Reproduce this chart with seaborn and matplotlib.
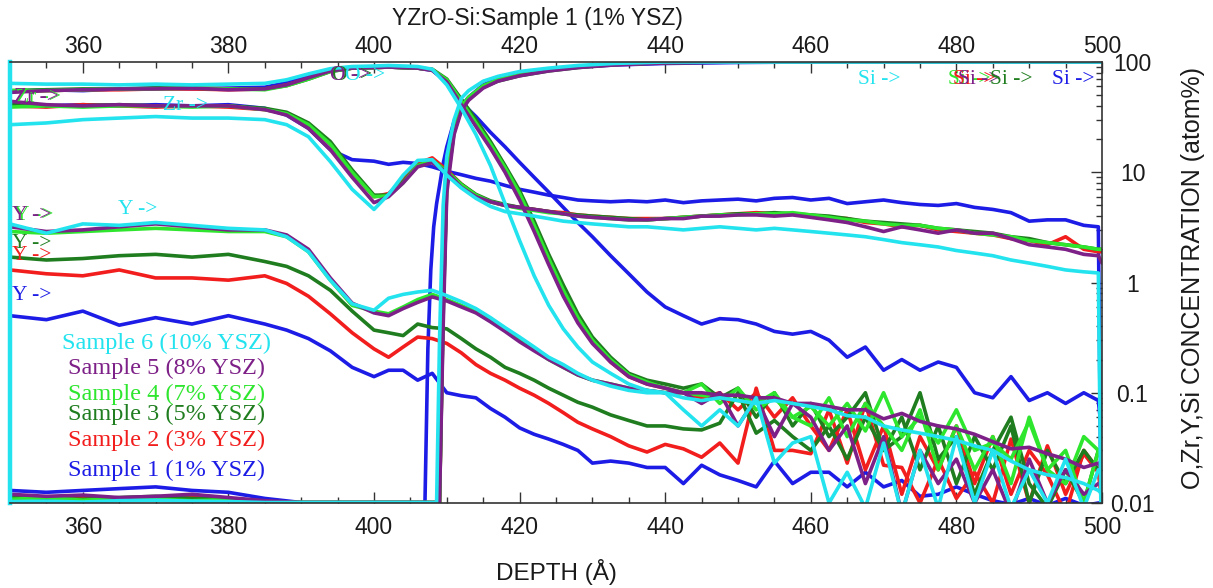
import numpy as np
import matplotlib
matplotlib.use("Agg")
import matplotlib.pyplot as plt
import seaborn as sns
from matplotlib.ticker import MultipleLocator, LogLocator, NullFormatter, NullLocator

# ---------------- data ----------------
depth = [350, 355, 360, 365, 370, 375, 380, 385, 388, 391, 394, 397,
         400, 402, 404, 406, 408, 410, 412, 414, 416, 418, 420, 422, 424, 426, 428, 430,
         432.5, 435, 437.5, 440, 442.5, 445, 447.5, 450, 452.5, 455,
         457.5, 460, 462.5, 465, 467.5, 470, 472.5, 475, 477.5, 480,
         482.5, 485, 487.5, 490, 492.5, 495, 497.5, 499.5, 500]

depth_si = [350, 355, 360, 365, 370, 375, 380, 385, 390, 395, 400, 405, 407, 407.4, 407.8,
            408.2, 408.6, 409, 409.5, 410, 411, 412, 413, 415, 417, 420, 424, 428, 433, 440,
            450, 460, 470, 480, 490, 500]

sample_names = ["Sample 1 (1% YSZ)", "Sample 2 (3% YSZ)", "Sample 3 (5% YSZ)",
                "Sample 4 (7% YSZ)", "Sample 5 (8% YSZ)", "Sample 6 (10% YSZ)"]

O_s1 = [54, 56, 55, 57, 58, 57, 58, 59, 65, 74, 85, 89,
        90, 90, 89, 88, 84, 66, 43, 32, 23, 17, 12.3, 9.0, 6.6, 4.8, 3.5, 2.6,
        1.75, 1.2, 0.82, 0.6, 0.5, 0.42, 0.47, 0.46, 0.42, 0.36,
        0.34, 0.36, 0.3, 0.21, 0.26, 0.16, 0.2, 0.16, 0.19, 0.17,
        0.1, 0.09, 0.14, 0.085, 0.1, 0.08, 0.1, 0.085, 0.04]
O_s2 = [54, 55, 56, 56, 57, 57, 56, 57, 62, 71, 83, 88,
        89, 90, 89, 88, 85, 68, 43, 27, 17, 10.5, 6.0, 3.1, 1.55, 0.8, 0.45, 0.29,
        0.19, 0.14, 0.12, 0.11, 0.1, 0.09, 0.1, 0.07, 0.1, 0.06,
        0.09, 0.05, 0.03, 0.07, 0.02, 0.05, 0.012, 0.04, 0.02, 0.05,
        0.015, 0.04, 0.012, 0.03, 0.018, 0.008, 0.03, 0.02, 0.02]
O_s3 = [55, 56, 57, 57, 58, 58, 57, 57, 61, 70, 82, 88,
        89, 90, 89, 88, 86, 70, 46, 30, 19, 11.5, 6.8, 3.6, 1.8, 0.95, 0.52, 0.32,
        0.21, 0.15, 0.13, 0.12, 0.11, 0.12, 0.09, 0.11, 0.06, 0.1,
        0.05, 0.08, 0.04, 0.06, 0.1, 0.03, 0.06, 0.02, 0.05, 0.015,
        0.04, 0.02, 0.05, 0.01, 0.03, 0.015, 0.03, 0.02, 0.02]
O_s4 = [55, 55, 56, 57, 57, 58, 57, 56, 61, 70, 82, 88,
        89, 90, 89, 88, 85, 69, 44, 28, 18, 11, 6.4, 3.3, 1.65, 0.85, 0.48, 0.3,
        0.2, 0.145, 0.125, 0.11, 0.1, 0.12, 0.08, 0.11, 0.07, 0.09,
        0.06, 0.05, 0.09, 0.04, 0.08, 0.05, 0.03, 0.07, 0.02, 0.05,
        0.02, 0.04, 0.015, 0.06, 0.02, 0.03, 0.01, 0.03, 0.03]
O_s5 = [53, 55, 56, 57, 57, 58, 56, 57, 62, 72, 83, 88,
        89, 90, 89, 88, 84, 66, 41, 26, 16.5, 10, 5.6, 2.9, 1.45, 0.75, 0.43, 0.28,
        0.19, 0.14, 0.12, 0.11, 0.1, 0.08, 0.1, 0.05, 0.09, 0.04,
        0.08, 0.06, 0.03, 0.05, 0.015, 0.04, 0.008, 0.03, 0.015, 0.025,
        0.01, 0.02, 0.008, 0.025, 0.01, 0.02, 0.012, 0.015, 0.015]
O_s6 = [64, 63, 63, 62, 63, 62, 63, 64, 69, 78, 87, 91,
        92, 93, 92, 91, 86, 62, 38, 22, 11.5, 5.2, 2.4, 1.15, 0.62, 0.38, 0.26, 0.19,
        0.15, 0.12, 0.105, 0.1, 0.07, 0.05, 0.07, 0.05, 0.09, 0.023,
        0.035, 0.04, 0.01, 0.019, 0.009, 0.035, 0.008, 0.03, 0.009, 0.04,
        0.01, 0.03, 0.009, 0.02, 0.01, 0.025, 0.009, 0.02, 0.02]

Zr_s1 = [42, 40, 41, 40, 41, 40, 41, 38, 33, 25, 16, 13,
         12.6, 11.8, 12.3, 12, 11.2, 10.2, 9.5, 8.8, 8.3, 7.6, 7.0, 6.6, 6.2, 5.9, 5.6, 5.5,
         5.4, 5.5, 5.4, 5.6, 5.3, 5.5, 5.6, 5.7, 5.5, 5.8,
         5.9, 5.6, 5.8, 5.2, 5.4, 5.6, 5.3, 5.1, 5.0, 5.2,
         4.8, 4.6, 4.3, 3.6, 3.7, 3.7, 3.3, 3.2, 0.001]
Zr_s2 = [40, 39, 41, 40, 39, 40, 39, 37, 34, 27, 18, 10,
         6.0, 6.4, 8.5, 12, 13.5, 10.5, 7.8, 6.2, 5.4, 5.0, 4.8, 4.6, 4.4, 4.3, 4.1, 4.0,
         3.9, 3.8, 3.8, 3.8, 3.9, 4.0, 4.1, 4.2, 4.3, 4.2,
         4.2, 4.0, 3.9, 3.8, 3.5, 3.4, 3.2, 3.3, 3.0, 2.9,
         2.8, 2.7, 2.5, 2.4, 2.2, 2.6, 2.0, 1.9, 1.9]
Zr_s3 = [41, 40, 40, 41, 40, 40, 40, 38, 35, 28, 19, 10.5,
         6.2, 6.2, 8.2, 11.5, 12.8, 10.2, 7.8, 6.3, 5.5, 5.1, 4.8, 4.6, 4.4, 4.2, 4.1, 4.0,
         3.9, 3.8, 3.7, 3.8, 3.9, 4.0, 4.1, 4.2, 4.2, 4.3,
         4.2, 4.1, 4.0, 3.8, 3.6, 3.5, 3.4, 3.3, 3.1, 3.0,
         2.9, 2.8, 2.6, 2.5, 2.3, 2.2, 2.1, 2.0, 2.0]
Zr_s4 = [39, 40, 39, 40, 40, 39, 40, 37, 34, 27, 18, 10,
         6.0, 6.1, 8.0, 11.5, 12.8, 10.2, 7.7, 6.2, 5.4, 5.0, 4.7, 4.5, 4.3, 4.2, 4.0, 3.9,
         3.8, 3.7, 3.7, 3.8, 3.9, 4.0, 4.1, 4.1, 4.2, 4.2,
         4.3, 4.1, 3.9, 3.7, 3.6, 3.4, 3.3, 3.3, 3.1, 3.0,
         2.8, 2.7, 2.6, 2.4, 2.3, 2.2, 2.1, 2.0, 2.0]
Zr_s5 = [44, 41, 40, 41, 40, 40, 40, 37, 33, 25, 16, 9,
         5.3, 6.0, 8.0, 11.2, 12.2, 10, 7.3, 6.0, 5.4, 5.0, 4.8, 4.6, 4.4, 4.2, 4.0, 3.9,
         3.8, 3.7, 3.7, 3.8, 3.8, 4.0, 4.0, 4.1, 4.1, 4.0,
         4.1, 3.9, 3.7, 3.5, 3.2, 2.9, 3.2, 3.0, 2.8, 3.0,
         2.8, 2.8, 2.5, 2.2, 2.1, 2.0, 1.8, 1.75, 1.5]
Zr_s6 = [27, 28, 30, 31, 32, 31, 31, 30, 27, 21, 12.5, 7,
         4.6, 6.3, 9.4, 12.8, 13, 9.4, 7.2, 5.8, 4.9, 4.4, 4.2, 4.0, 3.8, 3.6, 3.5, 3.4,
         3.3, 3.2, 3.2, 3.1, 3.0, 3.1, 3.2, 3.1, 3.0, 3.1,
         3.0, 2.9, 2.8, 2.7, 2.6, 2.45, 2.3, 2.2, 2.1, 1.95,
         1.85, 1.75, 1.6, 1.5, 1.4, 1.3, 1.25, 1.22, 0.001]

Y_s1 = [0.5, 0.46, 0.55, 0.41, 0.48, 0.42, 0.5, 0.42, 0.37, 0.31, 0.24, 0.17,
        0.14, 0.16, 0.16, 0.13, 0.15, 0.1, 0.094, 0.09, 0.072, 0.06, 0.048, 0.042, 0.038, 0.034, 0.03, 0.023,
        0.024, 0.023, 0.021, 0.021, 0.015, 0.022, 0.018, 0.016, 0.014, 0.024,
        0.015, 0.019, 0.019, 0.014, 0.019, 0.014, 0.016, 0.0115, 0.012, 0.014,
        0.012, 0.0105, 0.0097, 0.011, 0.0095, 0.011, 0.0095, 0.01, 0.01]
Y_s2 = [1.3, 1.2, 1.15, 1.3, 1.1, 1.1, 1.05, 1.15, 0.98, 0.75, 0.52, 0.35,
        0.25, 0.21, 0.26, 0.32, 0.31, 0.28, 0.23, 0.18, 0.15, 0.13, 0.11, 0.095, 0.08, 0.066, 0.054, 0.047,
        0.04, 0.033, 0.029, 0.034, 0.031, 0.026, 0.035, 0.023, 0.11, 0.03,
        0.03, 0.028, 0.07, 0.023, 0.08, 0.022, 0.021, 0.01, 0.025, 0.011,
        0.019, 0.01, 0.038, 0.01, 0.033, 0.012, 0.028, 0.019, 0.01]
Y_s3 = [1.7, 1.6, 1.65, 1.75, 1.8, 1.7, 1.8, 1.55, 1.4, 1.15, 0.85, 0.55,
        0.37, 0.35, 0.33, 0.42, 0.39, 0.38, 0.31, 0.25, 0.21, 0.17, 0.15, 0.13, 0.11, 0.095, 0.082, 0.074,
        0.063, 0.056, 0.05, 0.05, 0.047, 0.046, 0.053, 0.1, 0.043, 0.056,
        0.04, 0.03, 0.05, 0.025, 0.06, 0.03, 0.04, 0.1, 0.025, 0.04,
        0.012, 0.03, 0.06, 0.015, 0.009, 0.02, 0.01, 0.03, 0.03]
Y_s4 = [2.9, 2.8, 2.9, 3.0, 3.1, 3.0, 2.9, 2.9, 2.6, 1.9, 1.05, 0.62,
        0.55, 0.52, 0.6, 0.7, 0.78, 0.7, 0.62, 0.54, 0.45, 0.37, 0.3, 0.245, 0.2, 0.17, 0.145, 0.13,
        0.12, 0.11, 0.105, 0.1, 0.1, 0.095, 0.09, 0.085, 0.08, 0.1,
        0.06, 0.075, 0.05, 0.08, 0.045, 0.1, 0.04, 0.06, 0.035, 0.07,
        0.03, 0.035, 0.025, 0.055, 0.02, 0.015, 0.04, 0.03, 0.03]
Y_s5 = [3.2, 2.9, 3.0, 3.2, 3.4, 3.2, 3.0, 3.0, 2.7, 2.0, 1.1, 0.65,
        0.53, 0.5, 0.58, 0.66, 0.74, 0.68, 0.6, 0.53, 0.44, 0.36, 0.29, 0.24, 0.2, 0.17, 0.145, 0.13,
        0.12, 0.11, 0.105, 0.1, 0.1, 0.1, 0.095, 0.095, 0.09, 0.09,
        0.08, 0.08, 0.075, 0.07, 0.07, 0.058, 0.065, 0.055, 0.05, 0.047,
        0.042, 0.036, 0.031, 0.032, 0.028, 0.025, 0.021, 0.023, 0.02]
Y_s6 = [3.4, 2.8, 3.4, 3.3, 3.5, 3.3, 3.1, 3.0, 2.6, 1.9, 1.05, 0.64,
        0.56, 0.72, 0.78, 0.82, 0.85, 0.76, 0.67, 0.58, 0.48, 0.39, 0.32, 0.26, 0.21, 0.18, 0.15, 0.13,
        0.115, 0.105, 0.1, 0.1, 0.09, 0.085, 0.09, 0.085, 0.08, 0.085,
        0.08, 0.075, 0.07, 0.062, 0.06, 0.05, 0.046, 0.043, 0.04, 0.037,
        0.033, 0.03, 0.024, 0.02, 0.018, 0.017, 0.015, 0.013, 0.012]

Si_s1 = [0.013, 0.0125, 0.013, 0.0135, 0.014, 0.013, 0.0125, 0.011, 0.0101, 0.0101, 0.0101, 0.0101,
         0.0101, 0.25, 1.3, 3.2, 5.2, 7.5, 12, 17, 29, 40, 48, 62, 71, 80, 86, 90, 94, 97,
         99, 100, 100, 100, 100, 100]
Si_s2 = [0.011, 0.0105, 0.0112, 0.0108, 0.011, 0.0115, 0.0107, 0.0103, 0.0101, 0.0101, 0.0101, 0.0101,
         0.0101, 0.0101, 0.0101, 0.0101, 0.0101, 0.0101, 0.6, 8, 24, 38, 47, 60, 68, 76, 84, 90, 95, 99,
         100, 100, 100, 100, 100, 100]
Si_s3 = [0.0112, 0.011, 0.0108, 0.0112, 0.0115, 0.011, 0.0108, 0.0102, 0.0101, 0.0101, 0.0101, 0.0101,
         0.0101, 0.0101, 0.0101, 0.0101, 0.0101, 0.0101, 0.5, 7.5, 23, 37, 46, 59, 67, 75, 83, 89, 95, 99,
         100, 100, 100, 100, 100, 100]
Si_s4 = [0.0108, 0.0112, 0.0106, 0.011, 0.0108, 0.0105, 0.0107, 0.0102, 0.0101, 0.0101, 0.0101, 0.0101,
         0.0101, 0.0101, 0.0101, 0.0101, 0.0101, 0.0101, 0.7, 8.5, 25, 39, 48, 61, 69, 77, 85, 90, 95, 99,
         100, 100, 100, 100, 100, 100]
Si_s5 = [0.012, 0.0115, 0.0118, 0.0112, 0.0115, 0.012, 0.0112, 0.0105, 0.0101, 0.0101, 0.0101, 0.0101,
         0.0101, 0.0101, 0.0101, 0.0101, 0.0101, 0.0101, 0.4, 6.5, 22, 36, 45, 58, 67, 75, 83, 89, 94, 98,
         100, 100, 100, 100, 100, 100]
Si_s6 = [0.0103, 0.0104, 0.0102, 0.0105, 0.0106, 0.0104, 0.0103, 0.0101, 0.0101, 0.0101, 0.0101, 0.0101,
         0.0101, 0.0101, 0.0101, 0.0101, 0.0101, 0.3, 5, 14, 30, 47, 55, 67, 74, 82, 88, 93, 97, 100,
         100, 100, 100, 100, 100, 100]

x_major_ticks = [360, 380, 400, 420, 440, 460, 480, 500]
y_major_ticks = [0.01, 0.1, 1, 10, 100]
y_tick_labels = ["0.01", "0.1", "1", "10", "100"]

# ---------------- style ----------------
colors = ["#1c1ce6", "#f21d1d", "#1f7d1f", "#2ee62e", "#7d2087", "#22e3ee"]
O_all = [O_s1, O_s2, O_s3, O_s4, O_s5, O_s6]
Zr_all = [Zr_s1, Zr_s2, Zr_s3, Zr_s4, Zr_s5, Zr_s6]
Y_all = [Y_s1, Y_s2, Y_s3, Y_s4, Y_s5, Y_s6]
Si_all = [Si_s1, Si_s2, Si_s3, Si_s4, Si_s5, Si_s6]

sns.set_theme(style="white")
plt.rcParams['font.family'] = ['Liberation Sans', 'DejaVu Sans']
SERIF = ['Liberation Serif', 'DejaVu Serif']
TXT = '#1a1a1a'

fig = plt.figure(figsize=(12.13, 5.88), dpi=100)
ax = fig.add_axes([10 / 1213, 85 / 588, 1092 / 1213, 441 / 588])
ax.set_facecolor('white')

LW = 2.6
for s in range(6):
    for vals in (O_all[s], Zr_all[s], Y_all[s]):
        sns.lineplot(x=depth, y=vals, ax=ax, color=colors[s], lw=LW,
                     estimator=None, sort=False, legend=False)
    sns.lineplot(x=depth_si, y=Si_all[s], ax=ax, color=colors[s], lw=LW,
                 estimator=None, sort=False, legend=False)

ax.set_yscale('log')
ax.set_xlim(350, 500)
ax.set_ylim(0.01, 100)
ax.set_xlabel('')
ax.set_ylabel('')

# x ticks top & bottom, inward (labels at bottom from main axis)
ax.set_xticks(x_major_ticks)
ax.set_xticklabels([str(t) for t in x_major_ticks])
ax.xaxis.set_minor_locator(MultipleLocator(5))
ax.tick_params(axis='x', which='both', direction='in', top=True, bottom=True,
               labeltop=False, labelbottom=True, labelsize=16.5, pad=9,
               color='#333333', labelcolor=TXT, width=1.0)
ax.tick_params(axis='x', which='major', length=8)
ax.tick_params(axis='x', which='minor', length=4)

# top labels through a secondary axis (closer to the frame)
secax = ax.secondary_xaxis('top')
secax.set_xticks(x_major_ticks)
secax.set_xticklabels([str(t) for t in x_major_ticks])
secax.xaxis.set_minor_locator(NullLocator())
secax.tick_params(axis='x', which='both', length=0, pad=3, labelsize=16.5, labelcolor=TXT)
for sp in secax.spines.values():
    sp.set_visible(False)

# y ticks on right
ax.yaxis.tick_right()
ax.set_yticks(y_major_ticks)
ax.set_yticklabels(y_tick_labels)
ax.yaxis.set_minor_locator(LogLocator(base=10, subs=np.arange(2, 10)))
ax.yaxis.set_minor_formatter(NullFormatter())
ax.tick_params(axis='y', which='both', direction='in', left=False, right=True,
               labelleft=False, labelright=True, labelsize=16.5, pad=22,
               color='#333333', labelcolor=TXT, width=1.0)
ax.tick_params(axis='y', which='major', length=8)
ax.tick_params(axis='y', which='minor', length=4)
for t in ax.yaxis.get_major_ticks():
    t.label2.set_horizontalalignment('center')

for side in ['top', 'bottom', 'right']:
    ax.spines[side].set_color('#333333')
    ax.spines[side].set_linewidth(1.2)
ax.spines['left'].set_color(colors[5])
ax.spines['left'].set_linewidth(3.2)

# element labels inside the plot (axes-fraction positions)
def lab(px, py, text, color, size=15.5):
    ax.text((px - 10) / 1092, (503 - py) / 441, text, color=color, fontsize=size,
            family=SERIF, ha='left', va='center', transform=ax.transAxes, clip_on=False)

lab(16, 97, "Zr ->", colors[3])
lab(14, 97, "Zr ->", colors[4])
lab(163, 105, "Zr ->", colors[5])
lab(332, 76, "O ->", colors[2])
lab(330, 76, "O ->", colors[4])
lab(345, 76, "O ->", colors[5])
lab(14, 216, "Y ->", colors[3])
lab(12, 215, "Y ->", colors[4])
lab(118, 210, "Y ->", colors[5])
lab(12, 256, "Y ->", colors[1])
lab(12, 244, "Y ->", colors[2])
lab(12, 295, "Y ->", colors[0])
lab(858, 80, "Si ->", colors[5])
lab(948, 80, "Si ->", colors[3])
lab(953, 80, "Si ->", colors[1])
lab(958, 80, "Si ->", colors[4])
lab(990, 80, "Si ->", colors[2])
lab(1052, 80, "Si ->", colors[0])

# sample legend texts
legend_y = [470, 440, 414, 394, 368, 343]
for s in range(6):
    ax.text((167 - 10) / 1092, (503 - legend_y[s]) / 441, sample_names[s],
            color=colors[s], fontsize=17.5, family=SERIF, ha='center', va='center',
            transform=ax.transAxes)

fig.text(537 / 1213, 1 - 18 / 588, "YZrO-Si:Sample 1 (1% YSZ)", ha='center', va='center',
         fontsize=16.5, color=TXT)
fig.text(556 / 1213, 1 - 572 / 588, "DEPTH (Å)", ha='center', va='center',
         fontsize=17.5, color=TXT)
fig.text(1193 / 1213, 1 - 278 / 588, "O,Zr,Y,Si CONCENTRATION (atom%)", ha='center',
         va='center', rotation=90, fontsize=18, color=TXT)

fig.savefig("out.png", dpi=100, facecolor='white')
